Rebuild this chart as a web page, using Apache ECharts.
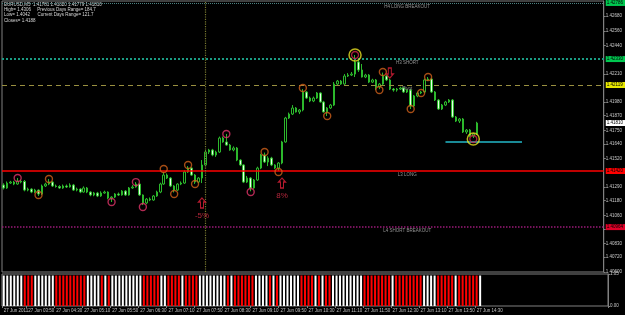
<!DOCTYPE html>
<html>
<head>
<meta charset="utf-8">
<script src="https://cdn.jsdelivr.net/npm/echarts@6/dist/echarts.min.js"></script>
<style>html,body{margin:0;padding:0;background:#000;}#c{width:625px;height:315px;}</style>
</head>
<body>
<div id="c"></div>
<script>
// ---- data (EURUSD M5, 27 Jun 2011) ----
const openP = [1.41306,1.41282,1.41322,1.41330,1.41314,1.41338,1.41335,1.41265,1.41273,1.41249,
1.41265,1.41233,1.41298,1.41314,1.41330,1.41298,1.41294,1.41282,1.41298,1.41290,
1.41306,1.41265,1.41273,1.41249,1.41282,1.41249,1.41225,1.41241,1.41217,1.41241,
1.41249,1.41200,1.41208,1.41233,1.41225,1.41257,1.41225,1.41282,1.41290,1.41314,
1.41225,1.41160,1.41192,1.41184,1.41217,1.41249,1.41314,1.41387,1.41363,1.41298,
1.41265,1.41314,1.41322,1.41412,1.41444,1.41387,1.41330,1.41363,1.41469,1.41574,
1.41591,1.41550,1.41574,1.41688,1.41656,1.41631,1.41591,1.41607,1.41509,1.41469,
1.41330,1.41363,1.41282,1.41347,1.41444,1.41550,1.41493,1.41525,1.41469,1.41444,
1.41485,1.41656,1.41851,1.41883,1.41932,1.41900,1.41916,1.42062,1.42013,1.41989,
1.42013,1.42054,1.41981,1.41900,1.41932,1.41956,1.42127,1.42151,1.42127,1.42192,
1.42200,1.42208,1.42306,1.42241,1.42184,1.42200,1.42143,1.42160,1.42103,1.42127,
1.42192,1.42160,1.42086,1.42078,1.42086,1.42095,1.42062,1.42078,1.41948,1.42030,
1.42054,1.42062,1.42160,1.42168,1.42062,1.41997,1.41924,1.41956,1.41981,1.41997,
1.41859,1.41826,1.41843,1.41737,1.41753,1.41704,1.41721];
const closeP = [1.41282,1.41322,1.41330,1.41314,1.41338,1.41330,1.41265,1.41273,1.41249,1.41265,
1.41233,1.41298,1.41314,1.41330,1.41298,1.41294,1.41282,1.41298,1.41290,1.41306,
1.41265,1.41273,1.41249,1.41282,1.41249,1.41225,1.41241,1.41217,1.41241,1.41249,
1.41200,1.41208,1.41233,1.41225,1.41257,1.41225,1.41282,1.41290,1.41314,1.41225,
1.41160,1.41192,1.41184,1.41217,1.41249,1.41314,1.41387,1.41363,1.41298,1.41265,
1.41314,1.41322,1.41412,1.41444,1.41387,1.41330,1.41363,1.41469,1.41574,1.41591,
1.41550,1.41574,1.41688,1.41656,1.41631,1.41591,1.41607,1.41509,1.41469,1.41330,
1.41363,1.41282,1.41347,1.41444,1.41550,1.41493,1.41525,1.41469,1.41444,1.41485,
1.41656,1.41851,1.41883,1.41932,1.41900,1.41916,1.42062,1.42013,1.41989,1.42013,
1.42054,1.41981,1.41900,1.41932,1.41956,1.42127,1.42151,1.42127,1.42192,1.42200,
1.42208,1.42306,1.42241,1.42184,1.42200,1.42143,1.42160,1.42103,1.42127,1.42192,
1.42160,1.42086,1.42078,1.42086,1.42095,1.42062,1.42078,1.41948,1.42030,1.42054,
1.42062,1.42160,1.42168,1.42062,1.41997,1.41924,1.41956,1.41981,1.41997,1.41859,
1.41826,1.41843,1.41737,1.41753,1.41704,1.41721,1.41810];
const highP = [1.41320,1.41335,1.41340,1.41340,1.41363,1.41350,1.41347,1.41285,1.41280,1.41275,
1.41270,1.41310,1.41325,1.41355,1.41338,1.41310,1.41305,1.41310,1.41310,1.41320,
1.41315,1.41285,1.41280,1.41295,1.41290,1.41255,1.41250,1.41250,1.41255,1.41260,
1.41255,1.41215,1.41240,1.41245,1.41265,1.41265,1.41290,1.41305,1.41330,1.41320,
1.41230,1.41200,1.41205,1.41225,1.41260,1.41325,1.41410,1.41400,1.41370,1.41305,
1.41320,1.41335,1.41425,1.41460,1.41450,1.41395,1.41370,1.41509,1.41591,1.41600,
1.41600,1.41585,1.41700,1.41700,1.41721,1.41640,1.41620,1.41615,1.41515,1.41475,
1.41380,1.41370,1.41355,1.41455,1.41560,1.41570,1.41540,1.41535,1.41475,1.41493,
1.41665,1.41860,1.41895,1.41956,1.41940,1.41924,1.42086,1.42070,1.42025,1.42025,
1.42062,1.42060,1.41990,1.41940,1.41965,1.42143,1.42160,1.42160,1.42208,1.42216,
1.42225,1.42363,1.42322,1.42290,1.42210,1.42208,1.42170,1.42168,1.42135,1.42220,
1.42200,1.42168,1.42095,1.42095,1.42105,1.42103,1.42086,1.42086,1.42038,1.42062,
1.42070,1.42170,1.42184,1.42175,1.42070,1.42005,1.41965,1.41990,1.42005,1.42005,
1.41867,1.41851,1.41851,1.41761,1.41761,1.41729,1.41820];
const lowP = [1.41270,1.41275,1.41315,1.41305,1.41308,1.41320,1.41255,1.41255,1.41240,1.41240,
1.41217,1.41225,1.41290,1.41305,1.41290,1.41285,1.41275,1.41275,1.41282,1.41285,
1.41258,1.41255,1.41240,1.41245,1.41240,1.41215,1.41215,1.41208,1.41210,1.41235,
1.41190,1.41168,1.41200,1.41217,1.41220,1.41217,1.41220,1.41275,1.41285,1.41217,
1.41143,1.41150,1.41175,1.41178,1.41210,1.41240,1.41308,1.41355,1.41290,1.41245,
1.41258,1.41305,1.41315,1.41405,1.41380,1.41315,1.41322,1.41322,1.41460,1.41558,
1.41540,1.41535,1.41566,1.41650,1.41625,1.41585,1.41580,1.41500,1.41460,1.41322,
1.41322,1.41255,1.41275,1.41340,1.41435,1.41485,1.41460,1.41460,1.41435,1.41420,
1.41475,1.41650,1.41843,1.41875,1.41895,1.41883,1.41905,1.42005,1.41980,1.41980,
1.42005,1.41975,1.41895,1.41867,1.41924,1.41948,1.42115,1.42120,1.42120,1.42184,
1.42192,1.42184,1.42225,1.42180,1.42175,1.42135,1.42135,1.42078,1.42086,1.42120,
1.42151,1.42078,1.42065,1.42065,1.42078,1.42054,1.42054,1.41924,1.41940,1.42020,
1.42045,1.42054,1.42151,1.42054,1.41989,1.41916,1.41916,1.41948,1.41973,1.41851,
1.41818,1.41810,1.41729,1.41721,1.41696,1.41688,1.41712];

// lower indicator panel: 1 = white bar, 0 = red bar
const panelState = [1,1,1,1,1,1,0,0,0,1, 1,1,1,1,1,0,0,0,0,0, 0,0,0,0,1,1,1,1,0,1,
0,1,1,1,1,1,1,1,1,1, 0,0,0,0,0,1,1,0,0,0, 0,1,0,0,0,0,1,1,1,1,
1,1,1,1,0,1,0,0,0,0, 0,0,1,1,1,1,0,1,0,1, 1,1,1,1,1,0,0,0,0,1,
0,1,0,0,1,1,1,1,1,1, 1,1,1,0,0,0,0,0,0,0, 0,1,0,0,0,0,0,0,0,0,
1,1,1,1,0,0,0,0,0,1, 0,0,0,0,0,0,1];

// fractal circles
const fracIdx   = [4,10,13,31,38,40,46,49,53,55,64,71,75,79,86,93,108,109,117,120,122];
const fracPrice = [1.41363,1.41225,1.41355,1.41168,1.41330,1.41127,1.41436,1.41233,1.41469,1.41314,1.41721,1.41249,1.41574,1.41412,1.42095,1.41867,1.42078,1.42225,1.41924,1.42054,1.42184];
const fracKind  = ['p','o','o','p','p','p','o','o','o','o','p','p','o','o','o','o','o','o','o','o','o'];
const bigIdx   = [101,135];
const bigPrice = [1.42363,1.41680];

// signal arrows
const arrowIdx   = [57,80,111];
const arrowPrice = [1.41160,1.41322,1.42216];
const arrowDir   = ['up','up','down'];
const arrowText  = ['-5%','8%',''];

// levels
const levelH4 = 1.42786, levelH3 = 1.42330, levelPivot = 1.42119, levelL3 = 1.41420, levelL4 = 1.40964;
const levelSupport = 1.41656, supportFrom = 127, supportTo = 149;
const lastClose = 1.41810;
const dayLineIdx = 58;
const levelNames = ['H4 LONG BREAKOUT','H3 SHORT','Pivot','L3 LONG','L4 SHORT BREAKOUT'];
const levelVals = [levelH4, levelH3, levelPivot, levelL3, levelL4];
const levelTextIdx = 116;

// axes
const priceTicks = [1.40600,1.40720,1.40830,1.40950,1.41060,1.41180,1.41290,1.41520,1.41640,1.41750,1.41870,1.41980,1.42210,1.42440,1.42560,1.42680];
const timeTickIdx = [0,7,15,23,31,39,47,55,63,71,79,87,95,103,111,119,127,135];
const timeTickText = ['27 Jun 2011','27 Jun 03:50','27 Jun 04:30','27 Jun 05:10','27 Jun 05:50','27 Jun 06:30','27 Jun 07:10','27 Jun 07:50','27 Jun 08:30','27 Jun 09:10','27 Jun 09:50','27 Jun 10:30','27 Jun 11:10','27 Jun 11:50','27 Jun 12:30','27 Jun 13:10','27 Jun 13:50','27 Jun 14:30'];
const headerLines = ['EURUSD,M5  1.41781 1.41820 1.41779 1.41810','High= 1.4306     Previous Days Range= 184.7','Low= 1.4042      Current Days Range= 121.7','Closes= 1.4188'];
const slotCount = 173;

// ---- build ----
const cats = [];
for (let i = 0; i < slotCount; i++) cats.push(String(i));
const candles = openP.map((o, i) => [o, closeP[i], lowP[i], highP[i]]);
const tickMap = {};
timeTickIdx.forEach((k, j) => { tickMap[k] = timeTickText[j]; });
const isTick = (idx) => tickMap[idx] !== undefined;
const FONT = 'Liberation Sans, DejaVu Sans, sans-serif';

const circleSeries = (kind, color) => ({
  type: 'scatter', xAxisIndex: 0, yAxisIndex: 0, symbol: 'circle', symbolSize: 7,
  itemStyle: { color: 'rgba(0,0,0,0)', borderColor: color, borderWidth: 1.4 },
  data: fracIdx.map((k, j) => fracKind[j] === kind ? [k, fracPrice[j]] : null).filter(Boolean),
  z: 5, silent: true
});

const lbl = (bg) => ({ show: true, position: 'end', distance: 2, color: '#000', backgroundColor: bg,
  fontSize: 4.5, fontFamily: FONT, padding: [1, 4, 0, 1], formatter: p => Number(p.value).toFixed(5) });

const option = {
  backgroundColor: '#000000',
  animation: false,
  textStyle: { fontFamily: FONT },
  grid: [
    { left: 2, right: 17, top: 1, bottom: 43, show: true, borderColor: '#808080', borderWidth: 1 },
    { left: 2, right: 17, top: 274, bottom: 9, show: true, borderColor: '#808080', borderWidth: 1 }
  ],
  xAxis: [
    { type: 'category', gridIndex: 0, data: cats, axisLine: { show: false }, axisTick: { show: false },
      axisLabel: { show: false }, splitLine: { show: false } },
    { type: 'category', gridIndex: 1, data: cats, axisLine: { show: false },
      axisTick: { show: true, interval: (i) => isTick(i), length: 2, lineStyle: { color: '#808080' } },
      axisLabel: { interval: (i) => isTick(i), formatter: (v, i) => tickMap[i] || '', fontSize: 4.5,
        color: '#c0c0c0', align: 'left', margin: 2, fontFamily: FONT },
      splitLine: { show: false } }
  ],
  yAxis: [
    { type: 'value', gridIndex: 0, position: 'right', min: 1.40599, max: 1.42802, scale: true,
      axisLine: { show: true, lineStyle: { color: '#808080' } }, splitLine: { show: false },
      axisTick: { show: true, customValues: priceTicks, length: 2, lineStyle: { color: '#808080' } },
      axisLabel: { customValues: priceTicks, formatter: v => v.toFixed(5), fontSize: 4.5, color: '#c8c8c8', margin: 2, fontFamily: FONT } },
    { type: 'value', gridIndex: 1, position: 'right', min: 0, max: 1.05,
      axisLine: { show: true, lineStyle: { color: '#808080' } }, splitLine: { show: false },
      axisTick: { show: true, customValues: [0, 1.05], length: 2, lineStyle: { color: '#808080' } },
      axisLabel: { customValues: [0, 1.05], formatter: v => v.toFixed(2), fontSize: 4.5, color: '#c8c8c8', margin: 2, fontFamily: FONT } }
  ],
  graphic: [
    { type: 'text', left: 4, top: 2, style: { text: headerLines.join('\n'), fill: '#d8d8d8', font: '4.5px ' + FONT, lineHeight: 5.3 } }
  ],
  series: [
    {
      type: 'candlestick', name: 'EURUSD', xAxisIndex: 0, yAxisIndex: 0, data: candles, barWidth: 2,
      itemStyle: { color: '#000000', color0: '#e8ffe8', borderColor: '#2cb82c', borderColor0: '#2cb82c', borderWidth: 1 },
      markLine: {
        symbol: ['none', 'none'], silent: true, precision: 5, animation: false,
        data: [
          { yAxis: levelH4, lineStyle: { color: '#4a8080', type: 'dotted', width: 1 }, label: lbl('#00c850') },
          { yAxis: levelH3, lineStyle: { color: '#1a9c84', type: 'dotted', width: 2 }, label: lbl('#00c850') },
          { yAxis: levelPivot, lineStyle: { color: '#9a9040', type: [5, 4], width: 1 }, label: lbl('#e8e800') },
          { yAxis: lastClose, lineStyle: { color: 'rgba(0,0,0,0)', width: 0 }, label: lbl('#ffffff') },
          { yAxis: levelL3, lineStyle: { color: '#ff0000', type: 'solid', width: 1.5 }, label: lbl('#ff0000') },
          { yAxis: levelL4, lineStyle: { color: '#9a1a78', type: 'dotted', width: 1.5 }, label: lbl('#e00028') },
          [ { coord: [supportFrom, levelSupport], lineStyle: { color: '#1a8a96', type: 'solid', width: 2 }, label: { show: false } },
            { coord: [supportTo, levelSupport] } ],
          { xAxis: dayLineIdx, lineStyle: { color: '#7a7a30', type: 'dotted', width: 1.2 }, label: { show: false } }
        ]
      }
    },
    circleSeries('o', '#d0601a'),
    circleSeries('p', '#e03468'),
    { type: 'scatter', xAxisIndex: 0, yAxisIndex: 0, symbol: 'circle', symbolSize: 12, silent: true, z: 5,
      itemStyle: { color: 'rgba(0,0,0,0)', borderColor: '#e8e020', borderWidth: 1.5 },
      data: bigIdx.map((k, j) => [k, bigPrice[j]]) },
    { type: 'scatter', xAxisIndex: 0, yAxisIndex: 0, symbol: 'circle', symbolSize: 7, silent: true, z: 6,
      itemStyle: { color: 'rgba(0,0,0,0)', borderColor: '#d02848', borderWidth: 1.3 },
      data: bigIdx.map((k, j) => [k, bigPrice[j]]) },
    { type: 'scatter', xAxisIndex: 0, yAxisIndex: 0, silent: true, z: 7,
      symbol: 'path://M3.5,0 L7,4 L5,4 L5,10 L2,10 L2,4 L0,4 Z', symbolSize: [7, 10],
      itemStyle: { color: 'rgba(0,0,0,0)', borderColor: '#e0203a', borderWidth: 1.2 },
      data: arrowIdx.map((k, j) => ({ value: [k, arrowPrice[j]], symbolRotate: arrowDir[j] === 'down' ? 180 : 0,
        label: { show: arrowText[j] !== '', formatter: arrowText[j], position: 'bottom', distance: 3,
          color: '#e0304a', fontSize: 8, fontFamily: FONT } })) },
    { type: 'scatter', xAxisIndex: 0, yAxisIndex: 0, silent: true, z: 4, symbolSize: 1,
      itemStyle: { color: 'rgba(0,0,0,0)' },
      data: levelVals.map((v, j) => ({ value: [levelTextIdx, v],
        label: { show: true, formatter: levelNames[j], position: 'bottom', distance: 1,
          color: '#b8b8b8', fontSize: 4.5, fontFamily: FONT } })) },
    { type: 'bar', xAxisIndex: 1, yAxisIndex: 1, barWidth: 2, silent: true,
      data: panelState.map(s => ({ value: 1, itemStyle: { color: s ? '#ffffff' : '#ff0000' } })) }
  ]
};

const chart = echarts.init(document.getElementById('c'), null, { renderer: 'canvas' });
chart.setOption(option);
</script>
</body>
</html>
